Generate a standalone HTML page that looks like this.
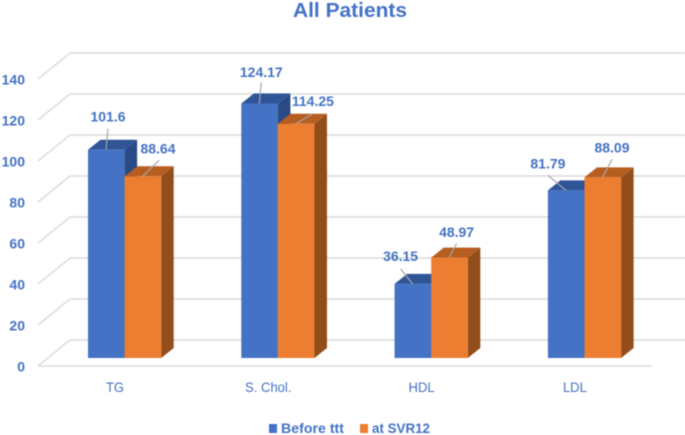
<!DOCTYPE html>
<html lang="en">
<head>
<meta charset="utf-8">
<title>All Patients</title>
<style>
  html, body { margin: 0; padding: 0; background: #fff; }
  body { width: 685px; height: 435px; overflow: hidden; }
  svg { display: block; filter: blur(0.45px); }
  text { font-family: "Liberation Sans", sans-serif; fill: #4472C4; }
</style>
</head>
<body>
<svg id="chart" width="685" height="435" viewBox="0 0 685 435" xmlns="http://www.w3.org/2000/svg">
  <text x="350" y="17" text-anchor="middle" font-size="20" font-weight="bold" textLength="114" lengthAdjust="spacingAndGlyphs">All Patients</text>
  <g id="grid"></g>
  <g id="ticks"></g>
  <g id="bars"></g>
  <g id="cats"></g>
  <g id="labels"></g>
  <g>
    <rect x="269" y="424" width="8" height="9" fill="#4472C4"></rect>
    <text x="281" y="433" font-size="14" font-weight="bold" textLength="63" lengthAdjust="spacingAndGlyphs">Before ttt</text>
    <rect x="360" y="424" width="8" height="9" fill="#ED7D31"></rect>
    <text x="372" y="433" font-size="14" font-weight="bold" textLength="58" lengthAdjust="spacingAndGlyphs">at SVR12</text>
  </g>
</svg>
<script>
const categories = ["TG", "S. Chol.", "HDL", "LDL"];
const beforeTtt = [101.6, 124.17, 36.15, 81.79];
const atSvr12 = [88.64, 114.25, 48.97, 88.09];
const tickLabels = [0, 20, 40, 60, 80, 100, 120, 140];

// Layout constants
const NS = "http://www.w3.org/2000/svg";
const FLOOR_FRONT = 366, WALL_SCALE = 2.05, LEFT_FRONT = 38, LEFT_BACK = 70;
const RIGHT_FRONT = 652, RIGHT_BACK = 685, WALL_DROP = 26;
const BAR_BASE = 358, BAR_SCALE = 2.05, BAR_W = 36.6, DEPTH_X = 12.5, DEPTH_Y = 10;
const GROUP_START = 88, GROUP_STEP = 153.3;
// Per-label layout, relative to each bar's top-left corner (not data):
// [label x, label baseline y, leader end x, leader end y]
const beforeLabelShift = [[20, -28, 20, -21], [20, -26.5, 20, -21], [6, -23, 6, -15], [0, -22, 0, -15]];
const afterLabelShift = [[33.4, -23, 34.5, -16], [35, -18, 35, -10], [25.4, -20.6, 25.4, -14], [27.5, -25, 27.5, -18]];

function yWallFront(v) { return FLOOR_FRONT - v * WALL_SCALE; }
function yWallBack(v) { return FLOOR_FRONT - WALL_DROP - v * WALL_SCALE; }
function yBar(v) { return BAR_BASE - v * BAR_SCALE; }
function xGroup(i) { return GROUP_START + i * GROUP_STEP; }

function add(parent, tag, attrs) {
  const el = document.createElementNS(NS, tag);
  for (const k in attrs) el.setAttribute(k, attrs[k]);
  parent.appendChild(el);
  return el;
}
function poly(pts) { return pts.map(p => p.join(",")).join(" "); }

const grid = document.getElementById("grid");
const ticks = document.getElementById("ticks");
tickLabels.forEach(function (t) {
  const back = add(grid, "line", { x1: LEFT_BACK, y1: yWallBack(t), x2: RIGHT_BACK, y2: yWallBack(t), stroke: "#dedede", "stroke-width": 1.7 });
  
  
  const side = add(grid, "line", { x1: LEFT_FRONT, y1: yWallFront(t), x2: LEFT_BACK, y2: yWallBack(t), stroke: "#dedede", "stroke-width": 1.7 });
  
  
  const label = add(ticks, "text", { x: 25, y: yWallFront(t) + 5.5, "text-anchor": "end", "font-size": 14, "font-weight": "bold" });
  label.textContent = t;
  
  
});
const floorFront = add(grid, "line", { x1: LEFT_FRONT, y1: FLOOR_FRONT, x2: RIGHT_FRONT, y2: FLOOR_FRONT, stroke: "#dedede", "stroke-width": 1.7 });



const bars = document.getElementById("bars");
function drawBar(x, v, front, top, side, name) {
  const y = yBar(v);
  const g = add(bars, "g", {});
  
  
  add(g, "polygon", { points: poly([[x + BAR_W, y], [x + BAR_W + DEPTH_X, y - DEPTH_Y], [x + BAR_W + DEPTH_X, BAR_BASE - DEPTH_Y], [x + BAR_W, BAR_BASE]]), fill: side });
  add(g, "polygon", { points: poly([[x, y], [x + DEPTH_X, y - DEPTH_Y], [x + BAR_W + DEPTH_X, y - DEPTH_Y], [x + BAR_W, y]]), fill: top });
  add(g, "rect", { x: x, y: y, width: BAR_W, height: BAR_BASE - y, fill: front });
}
categories.forEach(function (c, i) {
  const x = xGroup(i);
  drawBar(x, beforeTtt[i], "#4472C4", "#2F5597", "#294A86", "bar-before-" + i);
  drawBar(x + BAR_W, atSvr12[i], "#ED7D31", "#B65D20", "#934D1B", "bar-svr12-" + i);
});

const cats = document.getElementById("cats");
categories.forEach(function (c, i) {
  const t = add(cats, "text", { x: xGroup(i) + 27, y: 392, "text-anchor": "middle", "font-size": 14 });
  t.textContent = c;
  
  
  t.setAttribute('textLength', (t.getComputedTextLength() * 0.93).toFixed(1));
  t.setAttribute('lengthAdjust', 'spacingAndGlyphs');
});

const labels = document.getElementById("labels");
function drawLabel(x, v, s, name) {
  const y = yBar(v);
  const leader = add(labels, "line", { x1: x + 18, y1: y, x2: x + s[2], y2: y + s[3], stroke: "#a6a6a6", "stroke-width": 1.2 });
  
  
  const t = add(labels, "text", { x: x + s[0], y: y + s[1], "text-anchor": "middle", "font-size": 14, "font-weight": "bold" });
  t.textContent = v;
  
  
}
categories.forEach(function (c, i) {
  const x = xGroup(i);
  drawLabel(x, beforeTtt[i], beforeLabelShift[i], "value-before-" + i);
  drawLabel(x + BAR_W, atSvr12[i], afterLabelShift[i], "value-svr12-" + i);
});
</script>
</body>
</html>
